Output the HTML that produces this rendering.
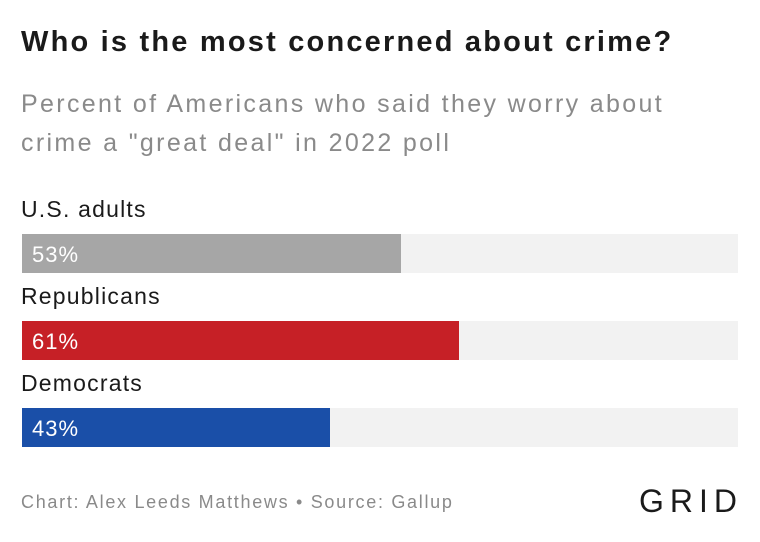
<!DOCTYPE html>
<html><head><meta charset="utf-8"><style>
body{margin:0;width:760px;height:542px;background:#fff;font-family:"Liberation Sans",sans-serif;position:relative;overflow:hidden}
.abs{position:absolute;white-space:nowrap}
</style></head><body>
<div class="abs" style="left:21px;top:28px;font-size:29px;line-height:1;letter-spacing:2.2px;font-weight:bold;color:#1a1a1a">Who is the most concerned about crime?</div>
<div class="abs" style="left:21px;top:85px;font-size:25px;line-height:39px;letter-spacing:2.35px;color:#8a8a8a">Percent of Americans who said they worry about<br>crime a "great deal" in 2022 poll</div>
<div id="chart"></div>
<div class="abs" style="left:21px;top:492px;font-size:18px;letter-spacing:1.7px;color:#8a8a8a">Chart: Alex Leeds Matthews • Source: Gallup</div>
<div class="abs" style="left:639px;top:483px;font-size:32px;letter-spacing:6px;color:#1a1a1a">GRID</div>
<script>
const categories=["U.S. adults","Republicans","Democrats"];
const values=[53,61,43];
const colors=["#a6a6a6","#c62026","#1a4fa8"];
const chart=document.getElementById('chart');
const x0=22,w=716,maxV=100;
function xs(v){return v/maxV*w;}
categories.forEach((c,i)=>{
  const top=234+i*87;
  const lab=document.createElement('div');
  lab.className='abs';
  
  
  lab.style.cssText=`left:21px;top:${top-38}px;font-size:23px;letter-spacing:1.2px;color:#1a1a1a`;
  lab.textContent=c;chart.appendChild(lab);
  const tr=document.createElement('div');
  tr.className='abs';
  
  
  tr.style.cssText=`left:${x0}px;top:${top}px;width:${w}px;height:39px;background:#f2f2f2`;
  chart.appendChild(tr);
  const b=document.createElement('div');
  b.className='abs';
  
  
  b.style.cssText=`left:${x0}px;top:${top}px;width:${xs(values[i])}px;height:39px;background:${colors[i]}`;
  chart.appendChild(b);
  const t=document.createElement('div');
  t.className='abs';
  
  
  t.style.cssText=`left:32px;top:${top+8}px;font-size:22px;letter-spacing:1px;color:#fff`;
  t.textContent=values[i]+'%';chart.appendChild(t);
});
</script>
</body></html>
